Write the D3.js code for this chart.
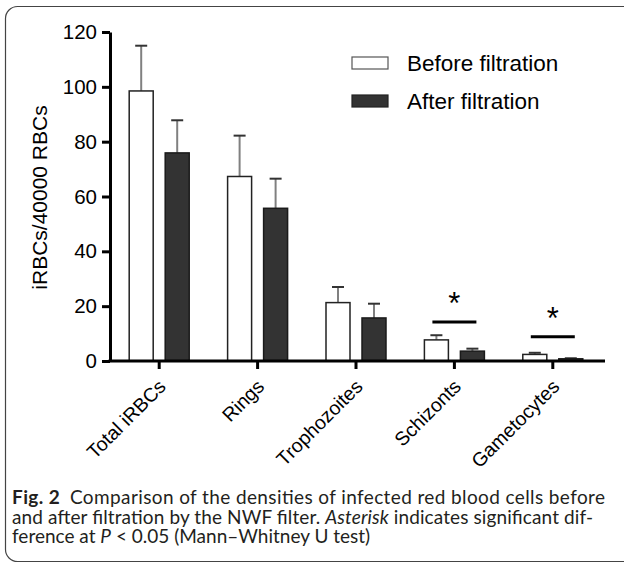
<!DOCTYPE html>
<html>
<head>
<meta charset="utf-8">
<script src="https://cdn.jsdelivr.net/npm/d3@7"></script>
<style>
  body { margin: 0; background: #fff; }
  svg { display: block; }
</style>
</head>
<body>
<svg id="chart"></svg>
<script>
// Data
const categories = ['Total iRBCs', 'Rings', 'Trophozoites', 'Schizonts', 'Gametocytes']
const beforeMean = [98.5, 67.3, 21.3, 7.7, 2.4]
const beforeSD = [16.5, 14.9, 5.7, 1.7, 0.6]
const afterMean = [75.9, 55.7, 15.7, 3.6, 0.8]
const afterSD = [11.9, 10.8, 5.2, 0.9, 0.2]
// height of the significance bar (in y units), null = not significant
const sigLevel = [null, null, null, 14.2, 8.8]
const yTicks = [0, 20, 40, 60, 80, 100, 120]
const seriesNames = ['Before filtration', 'After filtration']

const width = 624
const height = 564
const margin = { left: 110, right: 22, top: 32, bottom: 203 }
const FONT = '"Liberation Sans", Arial, sans-serif'

const svg = d3.select('#chart')
  .attr('width', width)
  .attr('height', height)

// frame around figure + caption
svg.append('rect')
  .attr('x', 5.5)
  .attr('y', 6.5)
  .attr('width', 640)
  .attr('height', 555)
  .attr('rx', 12)
  .attr('fill', 'none')
  .attr('stroke', '#444')
  .attr('stroke-width', 1.2)

const x = d3.scaleBand()
  .domain(categories)
  .range([margin.left, width - margin.right])

const y = d3.scaleLinear()
  .domain([0, 120])
  .range([height - margin.bottom, margin.top])

const BAR_W = 24
const BAR_GAP = 12
const cx = d => x(d) + x.bandwidth() / 2

const series = [
  { name: seriesNames[0], mean: beforeMean, sd: beforeSD, fill: '#ffffff', stroke: '#222', off: -BAR_GAP / 2 - BAR_W },
  { name: seriesNames[1], mean: afterMean, sd: afterSD, fill: '#333333', stroke: '#1a1a1a', off: BAR_GAP / 2 }
]

// error bars first so the bars cover their lower part
series.forEach(s => {
  const g = svg.append('g').attr('class', 'errors')
  const rows = categories.map((c, i) => ({ c, m: s.mean[i], sd: s.sd[i] }))
  g.selectAll('line.stem')
    .data(rows)
    .enter().append('line')
      .attr('class', 'stem')
      .attr('x1', d => cx(d.c) + s.off + BAR_W / 2)
      .attr('x2', d => cx(d.c) + s.off + BAR_W / 2)
      .attr('y1', d => y(d.m))
      .attr('y2', d => y(d.m + d.sd))
      .attr('stroke', '#808080')
      .attr('stroke-width', 2)
  g.selectAll('line.cap')
    .data(rows)
    .enter().append('line')
      .attr('class', 'cap')
      .attr('x1', d => cx(d.c) + s.off + BAR_W / 2 - 6)
      .attr('x2', d => cx(d.c) + s.off + BAR_W / 2 + 6)
      .attr('y1', d => y(d.m + d.sd))
      .attr('y2', d => y(d.m + d.sd))
      .attr('stroke', '#333')
      .attr('stroke-width', 2)
})

series.forEach(s => {
  svg.append('g')
    .attr('class', 'bars')
    .selectAll('rect')
    .data(categories.map((c, i) => ({ c, m: s.mean[i] })))
    .enter().append('rect')
      .attr('x', d => cx(d.c) + s.off)
      .attr('y', d => y(d.m))
      .attr('width', BAR_W)
      .attr('height', d => y(0) - y(d.m))
      .attr('fill', s.fill)
      .attr('stroke', s.stroke)
      .attr('stroke-width', 1.5)
})

// significance bars and asterisks
const sig = categories.map((c, i) => ({ c, v: sigLevel[i] })).filter(d => d.v !== null)
svg.append('g').selectAll('line')
  .data(sig)
  .enter().append('line')
    .attr('x1', d => cx(d.c) - 22)
    .attr('x2', d => cx(d.c) + 22)
    .attr('y1', d => y(d.v))
    .attr('y2', d => y(d.v))
    .attr('stroke', '#000')
    .attr('stroke-width', 3)
svg.append('g').selectAll('text')
  .data(sig)
  .enter().append('text')
    .attr('x', d => cx(d.c))
    .attr('y', d => y(d.v) - 8)
    .attr('text-anchor', 'middle')
    .attr('font-family', FONT)
    .attr('font-size', 31)
    .text('*')

// axes
const yAxis = svg.append('g')
  .attr('transform', `translate(${margin.left}, 0)`)
  .call(d3.axisLeft(y).tickValues(yTicks).tickSize(8).tickSizeOuter(0).tickPadding(5))
yAxis.attr('font-family', FONT).attr('font-size', 20.5)
yAxis.select('.domain').attr('stroke-width', 3).attr('stroke', '#000')
yAxis.selectAll('.tick line').attr('stroke-width', 3)
yAxis.selectAll('.tick text').attr('fill', '#000')

const xAxis = svg.append('g')
  .attr('transform', `translate(0, ${y(0)})`)
  .call(d3.axisBottom(x).tickSize(8).tickSizeOuter(0))
xAxis.attr('font-family', FONT).attr('font-size', 19.5)
xAxis.select('.domain')
  .attr('d', `M${margin.left - 1.5},0H${width - 19}`)
  .attr('stroke-width', 3).attr('stroke', '#000')
xAxis.selectAll('.tick line').attr('stroke-width', 3)
xAxis.selectAll('.tick text')
  .attr('fill', '#000')
  .attr('text-anchor', 'end')
  .attr('y', 0)
  .attr('dy', '.35em')
  .attr('transform', 'translate(3, 22) rotate(-45)')

svg.append('text')
  .attr('transform', `translate(40, ${(y(0) + y(120)) / 2 + 1}) rotate(-90)`)
  .attr('text-anchor', 'middle')
  .attr('dy', '.35em')
  .attr('font-family', FONT)
  .attr('font-size', 21)
  .text('iRBCs/40000 RBCs')

// legend
const legend = svg.append('g').attr('transform', 'translate(352, 57)')
series.forEach((s, i) => {
  legend.append('rect')
    .attr('x', 0)
    .attr('y', i * 38)
    .attr('width', 36)
    .attr('height', 12)
    .attr('fill', s.fill)
    .attr('stroke', i === 0 ? '#555' : '#222')
    .attr('stroke-width', 1.2)
  legend.append('text')
    .attr('x', 55)
    .attr('y', i * 38 + 6)
    .attr('dy', '.36em')
    .attr('font-family', FONT)
    .attr('font-size', 22.5)
    .text(s.name)
})

// caption
const capFont = 'Lato, "Noto Sans", sans-serif'
const caption = svg.append('g').attr('fill', '#231f20')
const lines = [
  [{ t: 'Fig. 2', w: 'bold' }, { t: '\u2002Comparison of the densities of infected red blood cells before' }],
  [{ t: 'and after filtration by the NWF filter. ' }, { t: 'Asterisk', i: true }, { t: ' indicates significant dif-' }],
  [{ t: 'ference at ' }, { t: 'P', i: true }, { t: ' < 0.05 (Mann\u2013Whitney U test)' }]
]
const lineEnds = [605, 593, null]
const capNodes = lines.map((parts, li) => {
  const t = caption.append('text')
    .attr('x', 12)
    .attr('y', 504 + li * 19.5)
    .attr('font-family', capFont)
    .attr('font-size', 16)
  parts.forEach(p => {
    t.append('tspan')
      .attr('font-weight', p.w || null)
      .attr('font-style', p.i ? 'italic' : null)
      .text(p.t)
  })
  return t
})
// size font so that the last (ragged) line matches, then justify the others
const natural = capNodes[2].node().getComputedTextLength()
const fs = Math.min(19, 16 * 365 / natural)
capNodes.forEach((t, li) => {
  t.attr('font-size', fs)
  if (lineEnds[li]) {
    t.attr('textLength', lineEnds[li] - 12).attr('lengthAdjust', 'spacing')
  }
})
</script>
</body>
</html>
